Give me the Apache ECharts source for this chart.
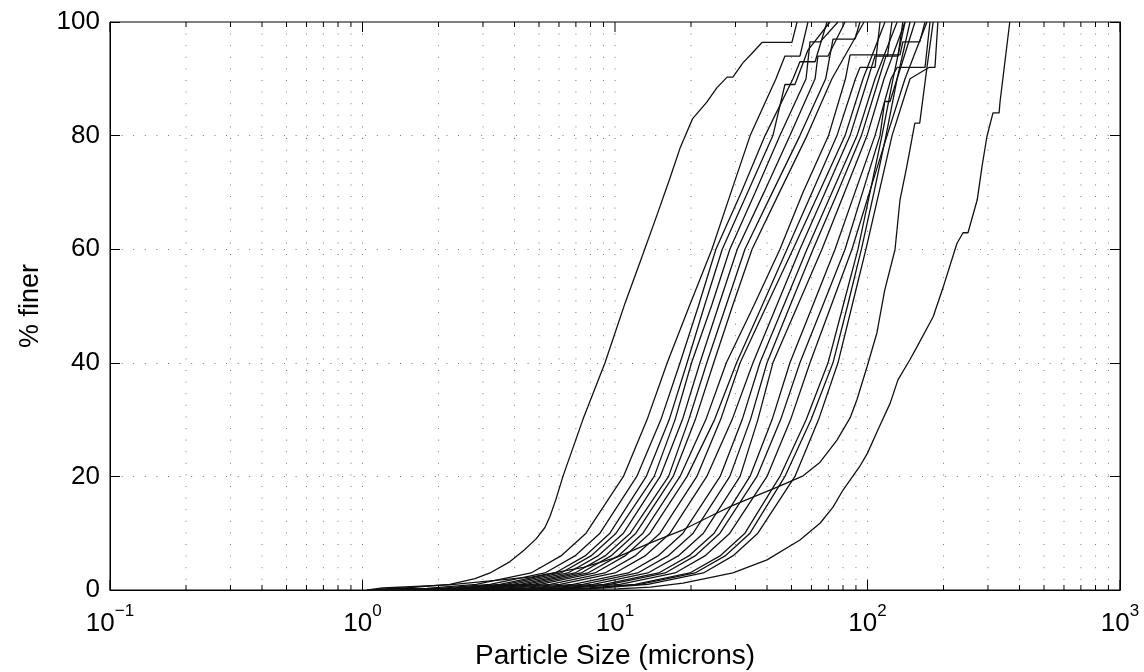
<!DOCTYPE html>
<html>
<head>
<meta charset="utf-8">
<script src="https://cdn.jsdelivr.net/npm/echarts@6/dist/echarts.min.js"></script>
<style>
html,body{margin:0;padding:0;background:#fff;}
#chart{width:1144px;height:672px;}
</style>
</head>
<body>
<div id="chart"></div>
<script>
// ---- Data (particle size in microns, % finer) ----
const xTickExps = ['−1', '0', '1', '2', '3'];
const yTicks = [0, 20, 40, 60, 80, 100];

const sampleFine = [[1.07,0],[1.5,0.4],[2.22,1.0],[2.79,2],[3.2,3],[3.84,5],[4.36,7],[4.87,9],[5.28,11],[5.53,13],[5.84,16],[6.22,20],[7.46,30],[9.13,40],[10.96,50.5],[12.56,57.7],[14.66,66],[16.5,72.5],[18.1,77.8],[20.3,83],[23.1,85.9],[25.3,88.4],[27.8,90.3],[29.3,90.3],[32.1,92.8],[34.9,94.5],[38.2,96.4],[50.2,96.4],[52.6,100]];
const sample01 = [[1.05,0],[1.8,0.3],[2.82,1],[4.65,3],[6.11,6],[7.68,10],[10.8,20],[13.4,30],[16.1,40],[19.7,50],[24.2,60],[28.8,70],[34.3,80],[43.4,90],[47.1,94],[54.0,94],[58.1,100]];
const sample02 = [[1.05,0],[2.0,0.3],[3.2,1],[5.28,3],[6.94,6],[8.72,10],[12.2,20],[15.2,30],[18.1,40],[21.4,50],[25.1,60],[31.6,70],[39.3,80],[50.7,90],[54,93],[62,93],[69.1,100]];
const sample03 = [[1.05,0],[2.2,0.3],[3.5,1],[5.79,3],[7.61,6],[9.55,10],[13.3,20],[16.4,30],[19.3,40],[22.6,50],[26.6,60],[33.5,70],[42.2,80],[47.1,89],[51.6,89],[58,95],[71,100]];
const sample04 = [[1.05,0],[2.3,0.3],[3.7,1],[6.11,3],[8.03,6],[10.1,10],[14.3,20],[17.3,30],[20.1,40],[24.1,50],[28.5,60],[35.9,70],[45.0,80],[57.1,90],[59.2,96.5],[64.9,96.5],[76.4,100]];
const sample05 = [[1.05,0],[2.5,0.3],[3.94,1],[6.51,3],[8.56,6],[10.8,10],[15.1,20],[18.5,30],[21.7,40],[25.7,50],[30.5,60],[38.9,70],[49.3,80],[62.0,90],[63.6,94],[69.8,94],[81.5,100]];
const sample06 = [[1.05,0],[2.6,0.3],[4.21,1],[6.94,3],[9.13,6],[11.5,10],[16.3,20],[19.6,30],[23.1,40],[27.5,50],[32.7,60],[42.0,70],[54.0,80],[68.3,90],[73,97],[89.2,97],[93.4,100]];
const sample07 = [[1.05,0],[2.8,0.3],[4.44,1],[7.34,3],[9.64,6],[12.1,10],[17.0,20],[20.8,30],[24.6,40],[29.2,50],[34.9,60],[44.8,70],[57.6,80],[72.3,90],[96.9,100]];
const sample08 = [[1.05,0],[3.0,0.3],[4.73,1],[7.81,3],[10.3,6],[12.9,10],[18.1,20],[22.9,30],[27.6,40],[35.4,50],[45.0,60],[55.5,70],[70.1,80],[81.8,90],[85.3,94.2],[134.5,94.2],[138,96.5],[161,96.5],[169,100]];
const sample09 = [[1.05,0],[3.2,0.3],[5.05,1],[8.33,3],[10.95,6],[13.76,10],[19.3,20],[24.8,30],[30.3,40],[38.2,50],[48.0,60],[60.3,70],[75.7,80],[89.6,90],[93.4,92],[107.1,92],[112.1,100]];
const sample10 = [[1.05,0],[3.5,0.3],[5.53,1],[9.13,3],[12.0,6],[15.08,10],[21.1,20],[26.2,30],[31.3,40],[39.8,50],[50.7,60],[64.3,70],[81.5,80],[96.0,90],[117.3,100]];
const sample11 = [[1.05,0],[3.8,0.3],[6.06,1],[10.0,3],[13.15,6],[16.52,10],[23.1,20],[29.1,30],[35.2,40],[43.6,50],[54.0,60],[67.9,70],[85.3,80],[100.4,90],[107,94],[120,94],[125,100]];
const sample12 = [[1.05,0],[4.3,0.3],[6.82,1],[11.3,3],[14.8,6],[18.6,10],[26.1,20],[31.9,30],[37.5,40],[46.5,50],[57.6,60],[72.3,70],[90.9,80],[107.1,90],[131,100]];
const sample13 = [[1.05,0],[4.7,0.3],[7.47,1],[12.3,3],[16.2,6],[20.4,10],[28.5,20],[34.4,30],[40.0,40],[49.3,50],[60.9,60],[76.1,70],[94.6,80],[111,90],[118.3,94],[132,94],[138,100]];
const sample14 = [[1.05,0],[5.1,0.3],[8.19,1],[13.5,3],[17.8,6],[22.4,10],[31.3,20],[36.8,30],[42.2,40],[52.8,50],[66.0,60],[81.1,70],[99.6,80],[116.3,90],[140.8,100]];
const sample15 = [[1.05,0],[5.7,0.3],[9.05,1],[14.9,3],[19.6,6],[24.7,10],[34.25,20],[41.9,30],[49.3,40],[60.6,50],[74.4,60],[89.2,70],[107.1,80],[123.9,90],[131,92],[169,92],[176.8,100]];
const sample16 = [[1.05,0],[6.0,0.3],[9.55,1],[15.8,3],[20.75,6],[26.05,10],[36.5,20],[45.3,30],[54.0,40],[66.4,50],[81.5,60],[95.6,70],[112.1,80],[117,86],[122.8,86],[131,90],[154.2,100]];
const sample17 = [[1.05,0],[6.5,0.3],[10.46,1],[17.3,3],[22.7,6],[28.5,10],[40.0,20],[49.6,30],[59.2,40],[71.7,50],[86.8,60],[101.8,70],[119.5,80],[140.8,90],[172,100]];
const sample18 = [[1.05,0],[7.5,0.3],[12.0,1],[19.8,3],[26.05,6],[32.7,10],[45.0,20],[57.2,30],[69.8,40],[80.0,50],[91.7,60],[102.3,70],[114.1,80],[126.2,90],[140.8,100]];
const sample19 = [[1.05,0],[7.9,0.3],[12.56,1],[20.75,3],[27.3,6],[34.25,10],[47.1,20],[59.8,30],[73.0,40],[83.3,50],[94.6,60],[106.1,70],[118.4,80],[131,90],[147.4,100]];
const sample20 = [[1.05,0],[8.4,0.3],[13.5,1],[22.4,3],[29.3,6],[36.8,10],[51.6,20],[64.0,30],[76.4,40],[86.8,50],[98.6,60],[111.1,70],[125.1,80],[147.4,90],[175,92],[185,92],[190,100]];
const sampleBump = [[1.05,0],[1.2,0.35],[2.2,0.9],[4.7,2.3],[7.5,4.0],[10.2,5.8],[13.8,8.3],[18.6,10.6],[24.4,13.2],[29.3,14.9],[43.9,18.1],[55.6,20.1],[64.9,22.5],[75.7,26.4],[85.3,30.3],[90.8,33.5],[99.6,39.3],[109,45.3],[117,52.8],[128.5,59.9],[134.5,68.7],[143,74.5],[154,82.2],[161,82.2],[172,92],[182,100]];
const sampleCoarse = [[1.05,0],[5,0.05],[10.2,0.2],[13.8,0.5],[18.6,1.2],[29.3,3],[40,5.3],[54,8.8],[65,11.8],[73,14.6],[80,17.6],[93,21.7],[100,24.1],[110,28.2],[123,32.9],[132,37],[147,40.5],[157,42.8],[182,48.1],[199,53.2],[222,59.9],[226,61],[239,62.9],[250,62.9],[272,68.7],[284,74.5],[297,79.8],[314,84],[332,84],[335,86],[366,100]];

const samples = [sampleFine, sample01, sample02, sample03, sample04, sample05, sample06, sample07, sample08, sample09, sample10,
  sample11, sample12, sample13, sample14, sample15, sample16, sample17, sample18, sample19, sample20, sampleBump, sampleCoarse];

// ---- log grid positions (axis structure) ----
const gridPositions = [];
for (let e = -1; e <= 2; e++) {
  for (let m = 1; m <= 9; m++) {
    gridPositions.push([m * Math.pow(10, e), m === 1 ? 1 : 0]);
  }
}
gridPositions.push([1000, 1]);

const FONT = '"Liberation Sans", Arial, Helvetica, sans-serif';

const chart = echarts.init(document.getElementById('chart'), null, {renderer: 'canvas'});

const series = [{
  type: 'custom',
  coordinateSystem: 'cartesian2d',
  data: gridPositions,
  z: 1,
  silent: true,
  clip: false,
  renderItem: function (params, api) {
    const x = api.value(0);
    const major = api.value(1) === 1;
    const pb = api.coord([x, 0]);
    const pt = api.coord([x, 100]);
    const len = major ? 10 : 5;
    const children = [];
    const isEdge = Math.abs(Math.log10(x) + 1) < 1e-6 || Math.abs(Math.log10(x) - 3) < 1e-6;
    if (!isEdge) {
      children.push({type: 'line', shape: {x1: pb[0], y1: pt[1], x2: pb[0], y2: pb[1]},
        style: {stroke: '#7a7a7a', lineWidth: 1, lineDash: [1, 10.6]}});
    }
    children.push({type: 'line', shape: {x1: pb[0], y1: pb[1], x2: pb[0], y2: pb[1] - len},
      style: {stroke: '#000', lineWidth: 1}});
    children.push({type: 'line', shape: {x1: pt[0], y1: pt[1], x2: pt[0], y2: pt[1] + len},
      style: {stroke: '#000', lineWidth: 1}});
    return {type: 'group', children: children};
  }
}];

samples.forEach(function (s) {
  series.push({
    type: 'line',
    data: s,
    showSymbol: false,
    symbol: 'none',
    z: 3,
    lineStyle: {color: '#111', width: 1.3},
    animation: false
  });
});

chart.setOption({
  animation: false,
  backgroundColor: '#fff',
  grid: {left: 110, right: 24, top: 22, bottom: 82, outerBoundsMode: 'none', containLabel: false,
    show: true, borderColor: '#000', borderWidth: 1},
  xAxis: {
    type: 'log',
    logBase: 10,
    min: 0.1,
    max: 1000,
    name: 'Particle Size (microns)',
    nameLocation: 'middle',
    nameGap: 50,
    nameTextStyle: {fontFamily: FONT, fontSize: 28, color: '#000'},
    axisLine: {show: true, lineStyle: {color: '#000', width: 1}},
    axisTick: {show: false},
    splitLine: {show: false},
    axisLabel: {
      margin: 13,
      formatter: function (v) {
        const e = Math.round(Math.log10(v));
        const idx = e + 1;
        return '{b|10}{s|' + xTickExps[idx] + '}';
      },
      rich: {
        b: {fontFamily: FONT, fontSize: 26, color: '#000', lineHeight: 34, verticalAlign: 'bottom'},
        s: {fontFamily: FONT, fontSize: 17, color: '#000', lineHeight: 17, verticalAlign: 'top'}
      }
    }
  },
  yAxis: [{
    type: 'value',
    min: 0,
    max: 100,
    interval: 20,
    name: '% finer',
    nameLocation: 'middle',
    nameGap: 66,
    nameRotate: 90,
    nameTextStyle: {fontFamily: FONT, fontSize: 27, color: '#000'},
    axisLine: {show: true, lineStyle: {color: '#000', width: 1}},
    axisTick: {show: true, inside: true, length: 10, lineStyle: {color: '#000'}},
    axisLabel: {
      margin: 10,
      fontFamily: FONT, fontSize: 26, color: '#000',
      formatter: function (v) { return yTicks.indexOf(v) >= 0 ? String(v) : ''; }
    },
    splitLine: {show: true, lineStyle: {color: '#7a7a7a', width: 1, type: [1, 10.6]}}
  }, {
    type: 'value',
    position: 'right',
    min: 0,
    max: 100,
    interval: 20,
    axisLine: {show: true, lineStyle: {color: '#000', width: 1}},
    axisTick: {show: true, inside: true, length: 10, lineStyle: {color: '#000'}},
    axisLabel: {show: false},
    splitLine: {show: false}
  }],
  series: series
});
</script>
</body>
</html>
